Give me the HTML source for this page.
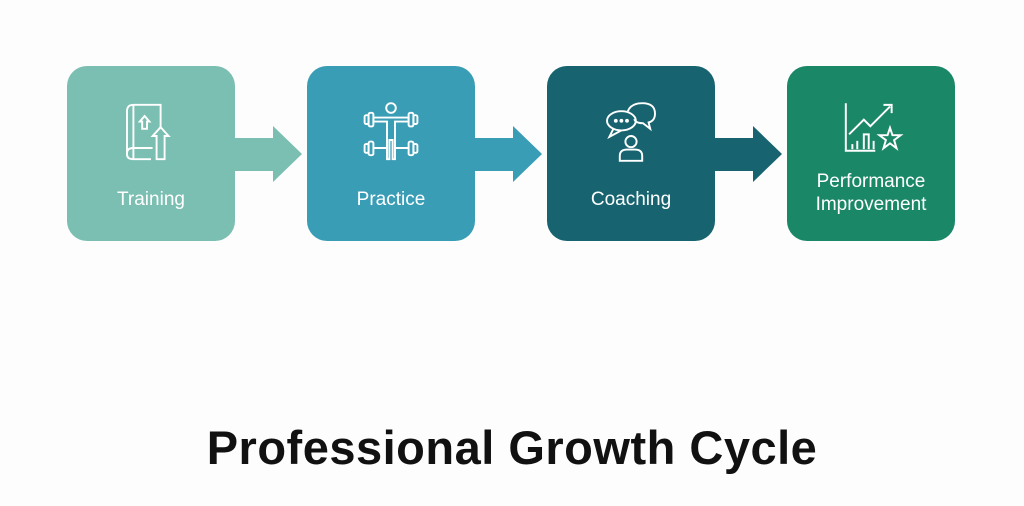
<!DOCTYPE html>
<html><head><style>
body{margin:0;width:1024px;height:506px;background:#fdfdfd;position:relative;overflow:hidden;font-family:"Liberation Sans",sans-serif}
.b{position:absolute;top:66px;width:168px;height:175px;border-radius:20px;color:#fff}
.l{position:absolute;left:0;width:100%;text-align:center;font-size:19px;line-height:23px}
svg.i{position:absolute;left:52px;top:34px}
h1{position:absolute;top:421px;left:0;width:100%;margin:0;text-align:center;font-size:47px;line-height:54px;font-weight:bold;color:#111;letter-spacing:0.5px}
</style></head><body>
<svg width="1024" height="300" style="position:absolute;left:0;top:0">
<polygon points="235,138 273,138 273,126 302,154 273,182 273,171 235,171" fill="#7bbfb2"/>
<polygon points="475,138 513,138 513,126 542,154 513,182 513,171 475,171" fill="#3a9db6"/>
<polygon points="715,138 753,138 753,126 782,154 753,182 753,171 715,171" fill="#176470"/>
</svg>
<div class="b" style="left:67px;background:#7bbfb2">
<svg class="i" width="64" height="64" viewBox="0 0 80 80" fill="none" stroke="#fff" stroke-width="2.4">
<path d="M18 6 H52 V36 M18 6 V74 H40 M18 6 Q10 6 10 14 V68 Q10 74 18 74"/>
<path d="M10 66 Q10 60 18 60 H42"/>
<path d="M32 20 L38 27 H35 V36 H29 V27 H26 Z"/>
<path d="M52 34 L62 45 H57 V74 H47 V45 H42 Z"/>
</svg>
<div class="l" style="top:122px">Training</div></div>
<div class="b" style="left:307px;background:#3a9db6">
<svg class="i" width="64" height="64" viewBox="0 0 80 80" fill="none" stroke="#fff" stroke-width="2.4">
<circle cx="40" cy="10" r="6"/>
<path d="M18 22 H62 V27 H45 V74 H42 V50 H38 V74 H35 V27 H18 Z"/>
<rect x="12" y="16" width="6" height="17" rx="2"/><rect x="7" y="19" width="5" height="11" rx="2"/>
<rect x="62" y="16" width="6" height="17" rx="2"/><rect x="68" y="19" width="5" height="11" rx="2"/>
<rect x="12" y="52" width="6" height="17" rx="2"/><rect x="7" y="55" width="5" height="11" rx="2"/><path d="M18 60 H35 M45 60 H62"/>
<rect x="62" y="52" width="6" height="17" rx="2"/><rect x="68" y="55" width="5" height="11" rx="2"/>
</svg>
<div class="l" style="top:122px">Practice</div></div>
<div class="b" style="left:547px;background:#176470">
<svg class="i" width="64" height="64" viewBox="0 0 80 80" fill="none" stroke="#fff" stroke-width="2.4">
<path d="M36 14 Q40 4 54 4 Q70 4 70 17 Q70 26 62 28 L64 36 L55 29 Q46 29 44 24"/>
<ellipse cx="28" cy="26" rx="18" ry="12"/><path d="M18 36 L13 46 L28 38"/>
<circle cx="21" cy="26" r="1.2" fill="#fff"/><circle cx="28" cy="26" r="1.2" fill="#fff"/><circle cx="35" cy="26" r="1.2" fill="#fff"/>
<circle cx="40" cy="52" r="7"/><path d="M26 76 V70 Q26 62 35 62 H45 Q54 62 54 70 V76 Z"/>
</svg>
<div class="l" style="top:122px">Coaching</div></div>
<div class="b" style="left:787px;background:#1a8766">
<svg class="i" width="66" height="54" viewBox="0 0 80 66" fill="none" stroke="#fff" stroke-width="2.4">
<path d="M8 4 V62 H44"/>
<path d="M12 42 L30 24 L38 32 L62 8"/><path d="M54 6 H64 V16"/>
<path d="M16 60 V54 M22 60 V50 M30 60 V42 H36 V60 M42 60 V50"/>
<path d="M62 34 L65 43 L75 43 L67 49 L70 59 L62 53 L54 59 L57 49 L49 43 L59 43 Z"/>
</svg>
<div class="l" style="top:104px">Performance<br>Improvement</div></div>
<h1>Professional Growth Cycle</h1>
</body></html>
